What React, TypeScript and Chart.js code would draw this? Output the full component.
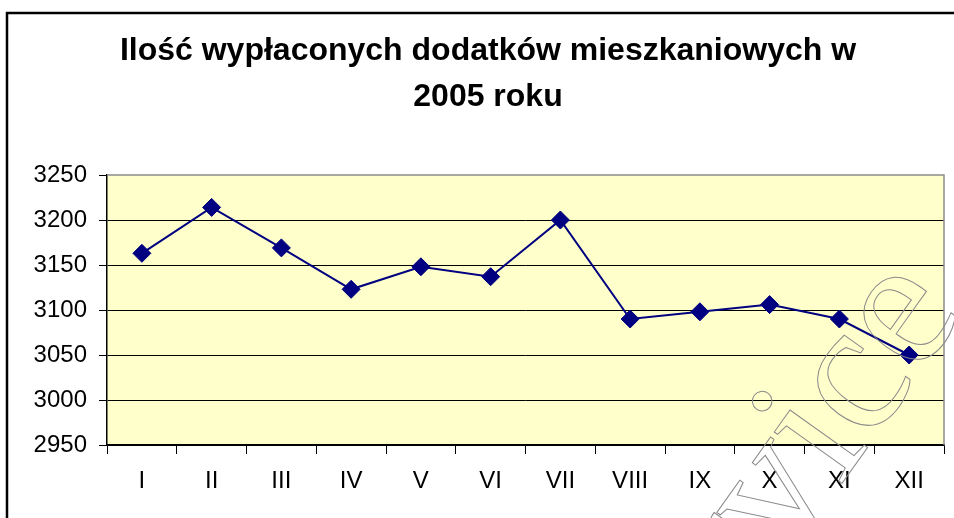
import React, { useEffect, useRef } from "react";
import { Chart, registerables } from "chart.js";

Chart.register(...registerables);

const TITLE_LINES = ["Ilość wypłaconych dodatków mieszkaniowych w", "2005 roku"];
const MONTHS = ["I", "II", "III", "IV", "V", "VI", "VII", "VIII", "IX", "X", "XI", "XII"];
const PAYMENTS = [3163, 3214, 3169, 3123, 3148, 3137, 3200, 3090, 3098, 3106, 3090, 3050];
const Y_MIN = 2950;
const Y_MAX = 3250;
const Y_STEP = 50;
const WATERMARK = "service";

const FONT = "'Liberation Sans', Arial, Helvetica, sans-serif";
const SERIF = "'Liberation Serif', 'Times New Roman', 'DejaVu Serif', serif";

const framePlugin = {
  id: "frame",
  beforeDraw(chart: any) {
    const { ctx, chartArea } = chart;
    ctx.save();
    ctx.fillStyle = "#ffffff";
    ctx.fillRect(0, 0, chart.width, chart.height);
    ctx.fillStyle = "#FFFFCC";
    ctx.fillRect(chartArea.left, chartArea.top, chartArea.right - chartArea.left, chartArea.bottom - chartArea.top);
    // outer chart border
    ctx.strokeStyle = "#000000";
    ctx.lineWidth = 2.5;
    ctx.beginPath();
    ctx.moveTo(7, chart.height + 5);
    ctx.lineTo(7, 13);
    ctx.lineTo(chart.width + 5, 13);
    ctx.stroke();
    // title
    ctx.fillStyle = "#000000";
    ctx.font = `bold 32px ${FONT}`;
    ctx.textAlign = "center";
    ctx.textBaseline = "middle";
    ctx.fillText(TITLE_LINES[0], 488, 51);
    ctx.fillText(TITLE_LINES[1], 488, 97);
    ctx.restore();
  },
  beforeDatasetsDraw(chart: any) {
    const { ctx, chartArea } = chart;
    ctx.save();
    ctx.strokeStyle = "#8c8c8c";
    ctx.lineWidth = 1.5;
    ctx.beginPath();
    ctx.moveTo(chartArea.left, chartArea.top);
    ctx.lineTo(chartArea.right, chartArea.top);
    ctx.lineTo(chartArea.right, chartArea.bottom);
    ctx.stroke();
    ctx.restore();
  },
  afterDraw(chart: any) {
    const { ctx } = chart;
    ctx.save();
    ctx.translate(965, 311);
    ctx.rotate((-54.5 * Math.PI) / 180);
    ctx.font = `185px ${SERIF}`;
    ctx.textAlign = "right";
    ctx.textBaseline = "alphabetic";
    ctx.strokeStyle = "#8a8a8a";
    ctx.lineWidth = 1;
    ctx.strokeText(WATERMARK, 0, 0);
    ctx.restore();
  },
};

export default function App() {
  const ref = useRef<HTMLCanvasElement | null>(null);
  useEffect(() => {
    if (!ref.current) return;
    const chart = new Chart(ref.current, {
      type: "line",
      data: {
        labels: MONTHS,
        datasets: [
          {
            data: PAYMENTS,
            borderColor: "#000080",
            backgroundColor: "#000080",
            borderWidth: 2,
            pointStyle: "rectRot",
            pointRadius: 9,
            pointBorderWidth: 1,
            pointBorderColor: "#000080",
            pointBackgroundColor: "#000080",
            tension: 0,
          },
        ],
      },
      options: {
        animation: false,
        responsive: false,
        devicePixelRatio: 1,
        layout: { padding: { top: 175, left: 0, right: 4, bottom: 0 } },
        plugins: {
          legend: { display: false },
          title: { display: false },
          tooltip: { enabled: false },
        },
        scales: {
          x: {
            offset: true,
            grid: {
              offset: true,
              drawOnChartArea: false,
              drawTicks: true,
              tickLength: 9,
              color: "#000000",
              lineWidth: 1,
            },
            border: { color: "#000000", width: 1.5 },
            ticks: {
              color: "#000000",
              font: { family: FONT, size: 24 },
              padding: 13,
              maxRotation: 0,
              autoSkip: false,
            },
            afterFit(scale: any) {
              scale.height = 518 - 445;
            },
          },
          y: {
            min: Y_MIN,
            max: Y_MAX,
            grid: {
              color: (c: any) => (c.tick && c.tick.value === Y_MAX ? "rgba(0,0,0,0)" : "#000000"),
              tickColor: "#000000",
              lineWidth: 1,
              tickLength: 8,
            },
            border: { color: "#000000", width: 1.5 },
            ticks: {
              stepSize: Y_STEP,
              color: "#000000",
              font: { family: FONT, size: 24 },
              padding: 12,
              callback: (v: any) => String(v),
            },
            afterFit(scale: any) {
              scale.width = 107;
            },
          },
        },
      },
      plugins: [framePlugin],
    });
    return () => chart.destroy();
  }, []);
  return (
    <div style={{ position: "fixed", left: 0, top: 0, width: 954, height: 518, background: "#fff" }}>
      <canvas ref={ref} width={954} height={518} style={{ width: 954, height: 518, display: "block" }} />
    </div>
  );
}
